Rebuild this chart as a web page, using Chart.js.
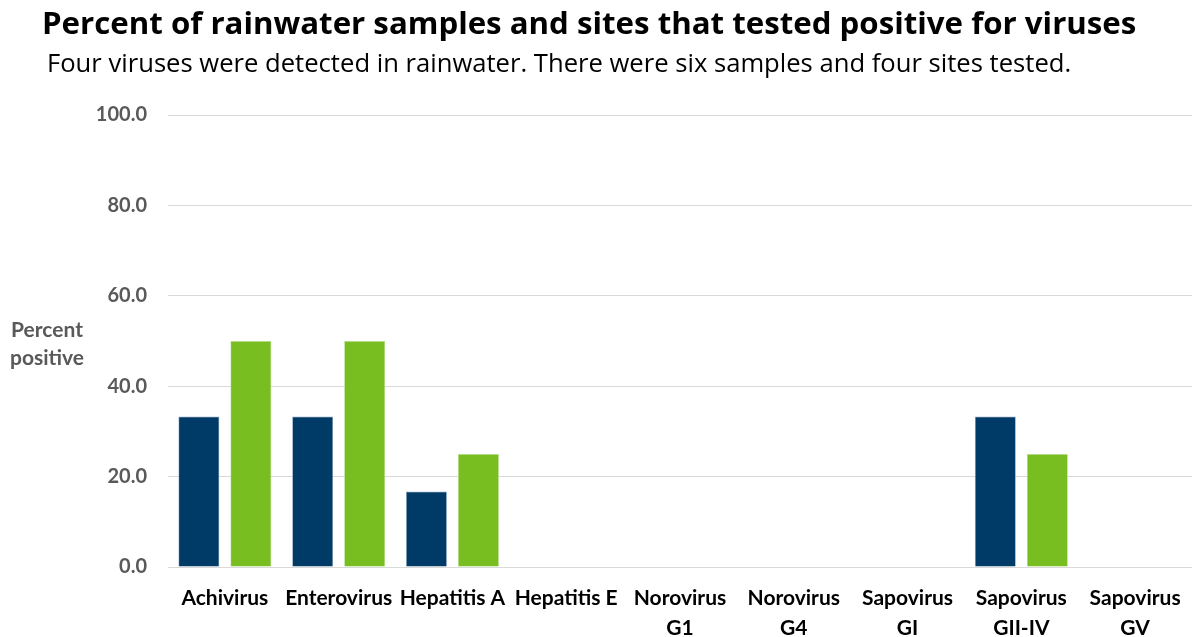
<!DOCTYPE html>
<html><head><meta charset="utf-8">
<script src="https://cdn.jsdelivr.net/npm/chart.js@4/dist/chart.umd.min.js"></script>
<style>
html,body{margin:0;padding:0;background:#fff;}
#wrap{position:relative;width:1192px;height:637px;}
#title{position:absolute;left:42px;top:0px;font:bold 30px "Open Sans",sans-serif;color:#000;white-space:nowrap;line-height:normal}
#sub{position:absolute;left:47px;top:44px;font:25px "Open Sans",sans-serif;color:#000;white-space:nowrap;line-height:normal}
#ytitle{position:absolute;left:0;width:94px;top:315px;font:bold 21px Lato,sans-serif;color:#595959;text-align:center;line-height:28px}
canvas{position:absolute;left:0;top:0}
</style></head>
<body><div id="wrap">
<canvas id="c" width="1192" height="637"></canvas>
<div id="title">Percent of rainwater samples and sites that tested positive for viruses</div>
<div id="sub">Four viruses were detected in rainwater. There were six samples and four sites tested.</div>
<div id="ytitle">Percent<br>positive</div>
</div>
<script>
const categories = [["Achivirus"],["Enterovirus"],["Hepatitis A"],["Hepatitis E"],["Norovirus","G1"],["Norovirus","G4"],["Sapovirus","GI"],["Sapovirus","GII-IV"],["Sapovirus","GV"]];
const samplesPositive = [33.3, 33.3, 16.7, 0, 0, 0, 0, 33.3, 0];
const sitesPositive = [50, 50, 25, 0, 0, 0, 0, 25, 0];
const yTicks = [0, 20, 40, 60, 80, 100];

function fitText(id, targetWidth, baseline) {
  const el = document.getElementById(id);
  const size = parseFloat(getComputedStyle(el).fontSize);
  const w = el.getBoundingClientRect().width;
  const ns = size * targetWidth / w;
  el.style.fontSize = ns + 'px';
  el.style.top = (baseline - 1.069 * ns) + 'px';
}
fitText('title', 1095, 34);
fitText('sub', 1025, 72);

new Chart(document.getElementById('c'), {
  type: 'bar',
  data: {
    labels: categories,
    datasets: [
      {label: 'Samples', data: samplesPositive, backgroundColor: '#003A66', borderColor: '#8FA8C4', borderWidth: 0.7, categoryPercentage: 0.914, barPercentage: 0.788},
      {label: 'Sites', data: sitesPositive, backgroundColor: '#78BE21', borderColor: '#B5DC8A', borderWidth: 0.7, categoryPercentage: 0.914, barPercentage: 0.788}
    ]
  },
  options: {
    responsive: false,
    animation: false,
    layout: {padding: {top: 115, right: 0, bottom: 0, left: 0}},
    plugins: {legend: {display: false}, tooltip: {enabled: false}, title: {display: false}},
    scales: {
      x: {
        grid: {display: false},
        border: {display: false},
        ticks: {color: '#000', font: {family: 'Lato', weight: 'bold', size: 21, lineHeight: 1.4}, padding: 9, maxRotation: 0, autoSkip: false},
        afterFit: s => { s.height = 70; }
      },
      y: {
        min: 0, max: 100,
        afterBuildTicks: s => { s.ticks = yTicks.map(v => ({value: v})); },
        grid: {color: '#D9D9D9', lineWidth: 1, drawTicks: false},
        border: {display: false},
        ticks: {color: '#595959', font: {family: 'Lato', weight: 'bold', size: 20}, padding: 21, callback: v => Number(v).toFixed(1)},
        afterFit: s => { s.width = 168; }
      }
    }
  }
});
</script>
</body></html>
